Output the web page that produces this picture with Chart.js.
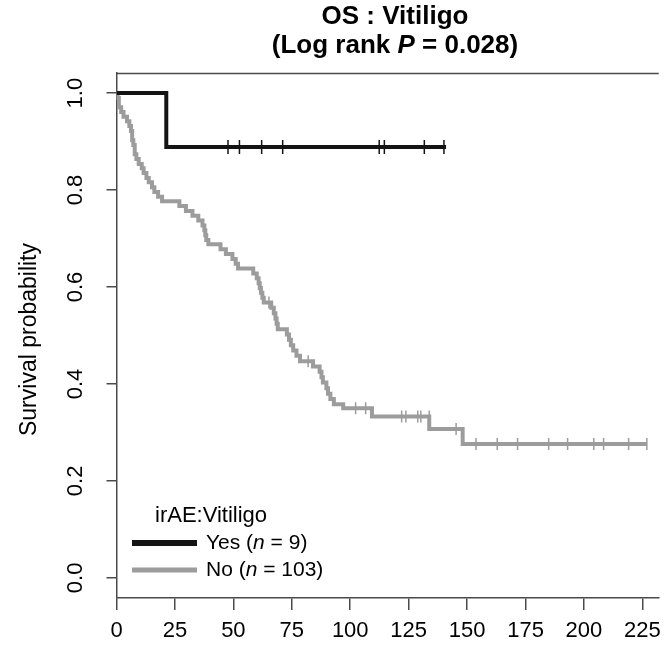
<!DOCTYPE html>
<html><head><meta charset="utf-8">
<script src="https://cdn.jsdelivr.net/npm/chart.js@4/dist/chart.umd.min.js"></script>
<style>html,body{margin:0;padding:0;background:#fff;}#wrap{width:669px;height:650px;}</style>
</head><body><div id="wrap"><canvas id="c" width="669" height="650"></canvas></div>
<script>
// ---- data ----
const xTicks = [0, 25, 50, 75, 100, 125, 150, 175, 200, 225];
const yTicks = [0.0, 0.2, 0.4, 0.6, 0.8, 1.0];
const yTickLabels = ['0.0', '0.2', '0.4', '0.6', '0.8', '1.0'];

// Vitiligo = Yes (n = 9)
const yesTimes = [0, 21.3, 141];
const yesSurv  = [1.0, 0.889, 0.889];
const yesCensorTimes = [47.7, 52.6, 62.1, 71.1, 112.4, 114.6, 131.7, 140.1];
const yesCensorSurv  = [0.889, 0.889, 0.889, 0.889, 0.889, 0.889, 0.889, 0.889];

// Vitiligo = No (n = 103)
const noTimes = [0, 0.5, 1.0, 2.0, 3.0, 4.5, 5.5, 6.2, 6.7, 7.2, 7.8, 8.5, 9.5, 10.8, 11.6, 12.8, 13.8, 15.2, 16.2, 17.8, 19.5,
  26.9, 29.7, 32.5, 35.0, 36.8, 37.6, 38.0, 38.4, 39.3, 44.5, 46.8, 49.6, 51.0, 52.0, 58.5, 60.0, 60.8, 61.3, 61.8, 62.4, 63.0,
  66.2, 67.3, 68.0, 68.5, 69.0, 72.9, 73.8, 74.6, 75.6, 77.0, 78.5, 84.1, 86.9, 87.7, 88.3, 89.8, 90.5, 91.5, 93.0, 97.0,
  109.3, 133.8, 148.1, 227.0];
const noSurv = [1.0, 0.990, 0.971, 0.961, 0.951, 0.942, 0.932, 0.922, 0.903, 0.893, 0.874, 0.864, 0.854, 0.845, 0.835, 0.825, 0.816, 0.806, 0.796, 0.786, 0.777,
  0.767, 0.757, 0.747, 0.737, 0.727, 0.717, 0.707, 0.697, 0.688, 0.678, 0.668, 0.658, 0.648, 0.638, 0.628, 0.618, 0.608, 0.598, 0.588, 0.578, 0.568,
  0.557, 0.546, 0.535, 0.524, 0.513, 0.502, 0.491, 0.480, 0.469, 0.458, 0.447, 0.436, 0.425, 0.414, 0.403, 0.391, 0.380, 0.369, 0.358, 0.350,
  0.333, 0.307, 0.276, 0.276];
const noCensorTimes = [65.2, 82.0, 102.3, 106.6, 122.0, 123.8, 128.9, 130.2, 133.8, 145.3, 153.8, 162.9, 171.6, 184.9, 193.0, 204.2, 208.4, 219.1, 226.9];
const noCensorSurv  = [0.568, 0.447, 0.350, 0.350, 0.333, 0.333, 0.333, 0.333, 0.333, 0.307, 0.276, 0.276, 0.276, 0.276, 0.276, 0.276, 0.276, 0.276, 0.276];

const titleLine1 = 'OS : Vitiligo';
const legendTitle = 'irAE:Vitiligo';
const yTitle = 'Survival probability';

// ---- styling ----
const FONT = '"Liberation Sans", Arial, Helvetica, sans-serif';
const BLACK = '#141414';
const GRAY = '#9c9c9c';
const AXIS = '#4a4a4a';

const pts = (xs, ys) => xs.map((x, i) => ({ x: x, y: ys[i] }));

function drawRuns(ctx, runs, x, y) {
  ctx.textBaseline = 'middle';
  ctx.textAlign = 'left';
  for (const [t, f] of runs) {
    ctx.font = f;
    ctx.fillText(t, x, y);
    x += ctx.measureText(t).width;
  }
}
function runsWidth(ctx, runs) {
  let w = 0;
  for (const [t, f] of runs) { ctx.font = f; w += ctx.measureText(t).width; }
  return w;
}

const decor = {
  id: 'decor',
  afterDraw(chart) {
    const ctx = chart.ctx;
    const ca = chart.chartArea;
    const ys = chart.scales.y;
    ctx.save();
    // top box edge
    ctx.strokeStyle = AXIS; ctx.lineWidth = 1.5;
    ctx.beginPath(); ctx.moveTo(ca.left, ca.top + 0.5); ctx.lineTo(ca.right, ca.top + 0.5); ctx.stroke();

    ctx.fillStyle = '#000';
    // title
    const tb = 'bold 26px ' + FONT;
    const tbi = 'italic bold 26px ' + FONT;
    ctx.font = tb; ctx.textAlign = 'center'; ctx.textBaseline = 'middle';
    const cx = 395;
    ctx.fillText(titleLine1, cx, 17);
    const r2 = [['(Log rank ', tb], ['P', tbi], [' = 0.028)', tb]];
    drawRuns(ctx, r2, cx - runsWidth(ctx, r2) / 2, 46);

    // y tick labels (rotated)
    ctx.font = '22px ' + FONT;
    ctx.textAlign = 'center'; ctx.textBaseline = 'middle';
    yTicks.forEach((v, i) => {
      const py = ys.getPixelForValue(v);
      ctx.save(); ctx.translate(76, py); ctx.rotate(-Math.PI / 2);
      ctx.fillText(yTickLabels[i], 0, 0); ctx.restore();
    });
    // y title
    ctx.font = '23px ' + FONT;
    ctx.save(); ctx.translate(30, (ca.top + ca.bottom) / 2 + 4); ctx.rotate(-Math.PI / 2);
    ctx.fillText(yTitle, 0, 0); ctx.restore();

    // legend
    ctx.font = '22px ' + FONT;
    ctx.textAlign = 'left'; ctx.textBaseline = 'middle';
    ctx.fillText(legendTitle, 155, 516);
    ctx.lineCap = 'butt';
    ctx.strokeStyle = BLACK; ctx.lineWidth = 6;
    ctx.beginPath(); ctx.moveTo(132, 543); ctx.lineTo(197, 543); ctx.stroke();
    ctx.strokeStyle = GRAY; ctx.lineWidth = 5;
    ctx.beginPath(); ctx.moveTo(132, 570); ctx.lineTo(197, 570); ctx.stroke();
    const f = '21px ' + FONT, fi = 'italic 21px ' + FONT;
    drawRuns(ctx, [['Yes (', f], ['n', fi], [' = 9)', f]], 206, 543);
    drawRuns(ctx, [['No (', f], ['n', fi], [' = 103)', f]], 206, 570);
    ctx.restore();
  }
};

new Chart(document.getElementById('c'), {
  type: 'line',
  data: {
    datasets: [
      { label: 'No', data: pts(noTimes, noSurv), stepped: 'before', borderColor: GRAY, borderWidth: 4,
        pointRadius: 0, fill: false, order: 3 },
      { type: 'scatter', label: 'No censored', data: pts(noCensorTimes, noCensorSurv), pointStyle: 'line', rotation: 90,
        pointRadius: 6, borderColor: GRAY, backgroundColor: GRAY, pointBorderWidth: 1.5, order: 2 },
      { label: 'Yes', data: pts(yesTimes, yesSurv), stepped: 'before', borderColor: BLACK, borderWidth: 4,
        pointRadius: 0, fill: false, order: 1 },
      { type: 'scatter', label: 'Yes censored', data: pts(yesCensorTimes, yesCensorSurv), pointStyle: 'line', rotation: 90,
        pointRadius: 7, borderColor: BLACK, backgroundColor: BLACK, pointBorderWidth: 1.5, order: 0 }
    ]
  },
  options: {
    responsive: false, animation: false, devicePixelRatio: 1,
    layout: { padding: { top: 73, left: 0, right: 0, bottom: 0 } },
    plugins: { legend: { display: false }, tooltip: { enabled: false }, title: { display: false } },
    scales: {
      x: {
        type: 'linear', min: 0, max: 232,
        afterBuildTicks: s => { s.ticks = xTicks.map(v => ({ value: v })); },
        afterFit: s => { s.height = 52; },
        grid: { drawOnChartArea: false, drawTicks: true, tickLength: 12, color: AXIS, lineWidth: 1.5 },
        border: { display: true, color: AXIS, width: 1.5 },
        ticks: { font: { family: FONT, size: 22 }, color: '#000', padding: 8, maxRotation: 0, minRotation: 0, autoSkip: false,
          callback: v => String(v) }
      },
      y: {
        type: 'linear', min: -0.0415, max: 1.0415,
        afterBuildTicks: s => { s.ticks = yTicks.map(v => ({ value: v })); },
        afterFit: s => { s.width = 116.5; },
        grid: { drawOnChartArea: false, drawTicks: true, tickLength: 10, color: AXIS, lineWidth: 1.5 },
        border: { display: true, color: AXIS, width: 1.5 },
        ticks: { display: false }
      }
    }
  },
  plugins: [decor]
});
</script>
</body></html>
